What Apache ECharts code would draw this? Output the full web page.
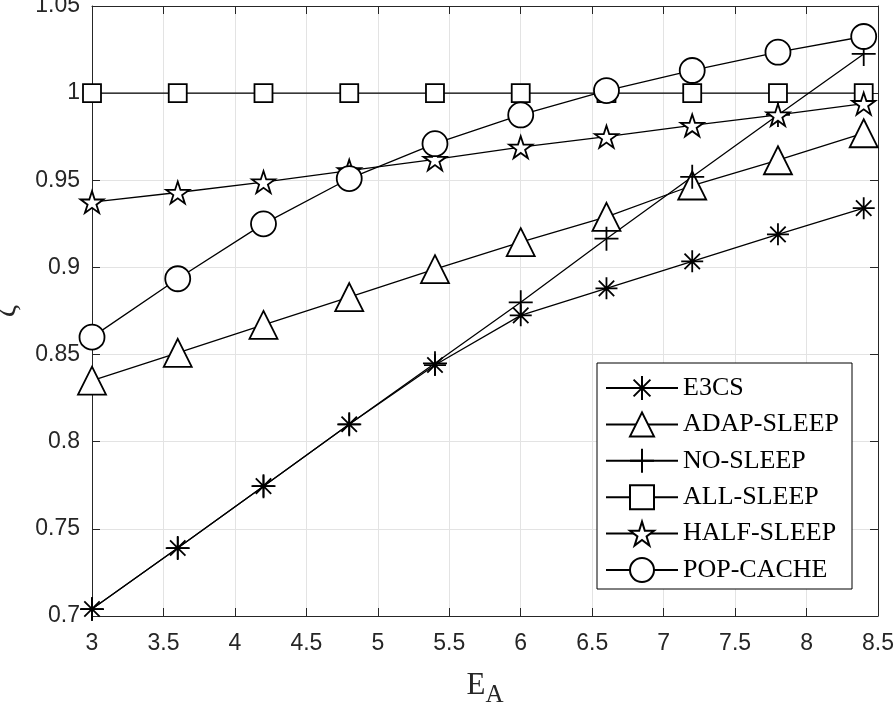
<!DOCTYPE html>
<html lang="en">
<head>
    <meta charset="utf-8">
    <title>zeta vs E_A</title>
    <script src="https://cdn.jsdelivr.net/npm/echarts@6/dist/echarts.min.js"></script>
    <style>
        html, body { margin: 0; padding: 0; background: #fff; }
        #main { width: 894px; height: 707px; }
    </style>
</head>
<body>
<div id="main"></div>
<script type="text/javascript">
    // x positions (E_A)
    var ea = [3, 3.6, 4.2, 4.8, 5.4, 6.0, 6.6, 7.2, 7.8, 8.4];

    // zeta values
    var e3cs      = [0.704, 0.739, 0.7745, 0.810, 0.844, 0.8725, 0.888, 0.9035, 0.919, 0.934];
    var adapSleep = [0.835, 0.851, 0.867, 0.883, 0.899, 0.9145, 0.929, 0.947, 0.9615, 0.977];
    var noSleep   = [0.704, 0.739, 0.7745, 0.810, 0.845, 0.880, 0.9165, 0.952, 0.9875, 1.0225];
    var allSleep  = [1, 1, 1, 1, 1, 1, 1, 1, 1, 1];
    var halfSleep = [0.9375, 0.943, 0.949, 0.9555, 0.962, 0.969, 0.975, 0.9815, 0.9875, 0.994];
    var popCache  = [0.860, 0.8935, 0.925, 0.951, 0.971, 0.9875, 1.0015, 1.013, 1.0235, 1.0325];

    var names = ['E3CS', 'ADAP-SLEEP', 'NO-SLEEP', 'ALL-SLEEP', 'HALF-SLEEP', 'POP-CACHE'];

    // marker shapes (matlab style)
    var asterisk = 'path://M0,10L20,10M10,0L10,20M3,3L17,17M17,3L3,17';
    var plus = 'path://M0,10L20,10M10,0L10,20';
    var star = 'path://M10,0L12.245,6.91L19.511,6.91L13.633,11.18L15.878,18.09L10,13.82L4.122,18.09L6.367,11.18L0.489,6.91L7.755,6.91Z';

    function pairs(ys) {
        return ea.map(function (x, i) { return [x, ys[i]]; });
    }

    function mkSeries(name, ys, symbol, size) {
        return {
            name: name,
            type: 'line',
            xAxisIndex: 0,
            yAxisIndex: 0,
            data: pairs(ys),
            symbol: symbol,
            symbolSize: size,
            symbolKeepAspect: true,
            showAllSymbol: true,
            lineStyle: {color: '#000', width: 1.3},
            itemStyle: {color: '#fff', borderColor: '#000', borderWidth: 1.8},
            emphasis: {disabled: true},
            animation: false
        };
    }

    var axisFont = {fontFamily: 'Liberation Sans, Arial, sans-serif', fontSize: 23, color: '#262626'};

    var myChart = echarts.init(document.getElementById('main'));
    myChart.setOption({
        animation: false,
        grid: {left: 92, right: 16, top: 6, bottom: 91, containLabel: false, outerBoundsMode: 'none'},
        legend: {
            orient: 'vertical',
            left: 597,
            top: 363,
            data: names,
            itemWidth: 72,
            itemHeight: 30,
            itemGap: 10.4,
            padding: [12, 13, 6, 8],
            backgroundColor: '#fff',
            borderColor: '#000',
            borderWidth: 1,
            textStyle: {fontFamily: 'Liberation Serif, Times New Roman, serif', fontSize: 26, color: '#000'}
        },
        xAxis: [{
            type: 'value',
            min: 3,
            max: 8.5,
            interval: 0.5,
            name: '{e|E}{s|A}',
            nameLocation: 'middle',
            nameGap: 47,
            nameTextStyle: {
                rich: {
                    e: {fontFamily: 'Liberation Serif, serif', fontSize: 31, color: '#262626'},
                    s: {fontFamily: 'Liberation Serif, serif', fontSize: 25, color: '#262626', padding: [20, 0, 0, 0]}
                }
            },
            axisLine: {lineStyle: {color: '#262626', width: 1}},
            axisTick: {inside: true, length: 8, lineStyle: {color: '#262626'}},
            axisLabel: Object.assign({margin: 16, formatter: function (v) { return String(+v.toFixed(1)); }}, axisFont),
            splitLine: {show: true, lineStyle: {color: '#e3e3e3', width: 1}}
        }, {
            type: 'value',
            position: 'top',
            min: 3,
            max: 8.5,
            interval: 0.5,
            axisLine: {show: true, lineStyle: {color: '#262626', width: 1}},
            axisTick: {inside: true, length: 8, lineStyle: {color: '#262626'}},
            axisLabel: {show: false},
            splitLine: {show: false}
        }],
        yAxis: [{
            type: 'value',
            min: 0.7,
            max: 1.05,
            interval: 0.05,
            name: 'ζ',
            nameLocation: 'middle',
            nameRotate: 90,
            nameGap: 70,
            nameTextStyle: {fontFamily: 'Liberation Serif, serif', fontSize: 30, color: '#262626'},
            axisLine: {show: true, lineStyle: {color: '#262626', width: 1}},
            axisTick: {show: true, inside: true, length: 8, lineStyle: {color: '#262626'}},
            axisLabel: Object.assign({margin: 12, formatter: function (v) { return String(+v.toFixed(2)); }}, axisFont),
            splitLine: {show: true, lineStyle: {color: '#e3e3e3', width: 1}}
        }, {
            type: 'value',
            position: 'right',
            min: 0.7,
            max: 1.05,
            interval: 0.05,
            axisLine: {show: true, lineStyle: {color: '#262626', width: 1}},
            axisTick: {show: true, inside: true, length: 8, lineStyle: {color: '#262626'}},
            axisLabel: {show: false},
            splitLine: {show: false}
        }],
        series: [
            mkSeries('E3CS', e3cs, asterisk, 22),
            mkSeries('ADAP-SLEEP', adapSleep, 'triangle', 28),
            mkSeries('NO-SLEEP', noSleep, plus, 24),
            mkSeries('ALL-SLEEP', allSleep, 'rect', 18),
            mkSeries('HALF-SLEEP', halfSleep, star, 23),
            mkSeries('POP-CACHE', popCache, 'circle', 25)
        ]
    });
</script>
</body>
</html>
